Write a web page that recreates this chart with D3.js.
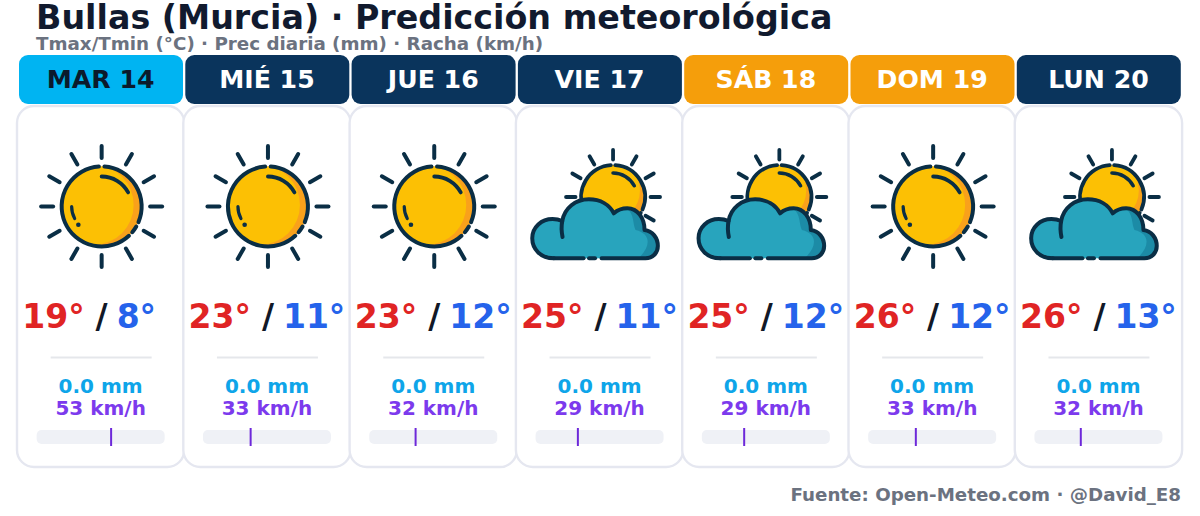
<!DOCTYPE html>
<html>
<head>
<meta charset="utf-8">
<script src="https://cdn.jsdelivr.net/npm/d3@7"></script>
<style>
  html, body { margin: 0; padding: 0; background: #fff; }
  text { font-family: "DejaVu Sans", sans-serif; font-weight: bold; }
</style>
</head>
<body>
<div id="chart"></div>
<script>
const days   = ["MAR 14", "MIÉ 15", "JUE 16", "VIE 17", "SÁB 18", "DOM 19", "LUN 20"];
const kinds  = ["today", "week", "week", "week", "weekend", "weekend", "week"];
const icons  = ["sun", "sun", "sun", "cloud", "cloud", "sun", "cloud"];
const tmax   = [19, 23, 23, 25, 25, 26, 26];
const tmin   = [8, 11, 12, 11, 12, 12, 13];
const precip = [0, 0, 0, 0, 0, 0, 0];
const gust   = [53, 33, 32, 29, 29, 33, 32];

const title    = "Bullas (Murcia) · Predicción meteorológica";
const subtitle = "Tmax/Tmin (°C) · Prec diaria (mm) · Racha (km/h)";
const source   = "Fuente: Open-Meteo.com · @David_E8";

const width = 1200, height = 516;
const ink = "#0a2e45";

const headFill = { today: "#00b4f2", week: "#0a345c", weekend: "#f59e0b" };
const headText = { today: "#0b1a2c", week: "#ffffff", weekend: "#ffffff" };

const svg = d3.select("#chart").append("svg")
  .attr("width", width).attr("height", height)
  .style("display", "block");

const x = d3.scaleBand().domain(days).range([17.5, 17.5 + 7 * 166.3]);
const gustX = d3.scaleLinear().domain([0, 90]).range([-60.5, 60]);

svg.append("text").attr("x", 36).attr("y", 28.5)
  .attr("font-size", 33.3).attr("fill", "#111a2e").text(title);
svg.append("text").attr("x", 36).attr("y", 49.5)
  .attr("font-size", 18.3).attr("fill", "#6b7280").text(subtitle);
svg.append("text").attr("x", 1181).attr("y", 501).attr("text-anchor", "end")
  .attr("font-size", 18.25).attr("fill", "#6b7280").text(source);

// arc stroke between two angles (degrees, clockwise from 12 o'clock)
function arcPath(cx, cy, r, a0, a1) {
  const p = d3.path();
  p.arc(cx, cy, r, (a0 - 90) * Math.PI / 180, (a1 - 90) * Math.PI / 180);
  return p.toString();
}

function strokeIt(sel, sw) {
  return sel.attr("fill", "none").attr("stroke", ink)
    .attr("stroke-width", sw).attr("stroke-linecap", "round").attr("stroke-linejoin", "round");
}

function drawSun(g, cx, cy, r, rayIn, rayOut, sw, litDx, litDy) {
  d3.range(0, 360, 30).forEach(a => {
    const t = a * Math.PI / 180;
    strokeIt(g.append("line")
      .attr("x1", cx + rayIn * Math.sin(t)).attr("y1", cy - rayIn * Math.cos(t))
      .attr("x2", cx + rayOut * Math.sin(t)).attr("y2", cy - rayOut * Math.cos(t)), sw);
  });
  g.append("circle").attr("cx", cx).attr("cy", cy).attr("r", r).attr("fill", "#f9a11b");
  const clip = "lit" + Math.round(r) + "_" + g.attr("data-i");
  g.append("clipPath").attr("id", clip).append("circle")
    .attr("cx", cx).attr("cy", cy).attr("r", r);
  g.append("circle").attr("clip-path", `url(#${clip})`)
    .attr("cx", cx + r * litDx).attr("cy", cy + r * litDy).attr("r", r).attr("fill", "#fcc004");
  [[4, 113], [120, 130], [137, 356]].forEach(([a0, a1]) => {
    strokeIt(g.append("path").attr("d", arcPath(cx, cy, r, a0, a1)), sw);
  });
  strokeIt(g.append("path").attr("d", arcPath(cx, cy, r * 0.75, 0, 62)), sw * 0.95);
}

function drawSunIcon(g) {
  drawSun(g, 0, 6.5, 40, 48.5, 60.5, 4, -0.2, -0.04);
  // lower-left glint on the big sun
  strokeIt(g.append("path").attr("d", "M-30,6.5 C-30,11 -29,15 -27,18.5"), 3.2);
  g.append("circle").attr("cx", -23.3).attr("cy", 24.8).attr("r", 2.3).attr("fill", ink);
}

const cloudD = "M-46.7,58.3 C-60,58.3 -68.3,49 -68.3,38.3 C-68.3,27 -59,19 -48,19 C-44,19 -41,19.8 -38.3,21 " +
  "C-36,8 -25,-0.7 -11.7,-0.7 C0,-0.7 9,5 13.3,13.3 C17,10 21,8.3 26.7,8.3 C37,8.3 44,18 44,30 " +
  "C52,31 57.3,38 57.3,46 C57.3,53 52,58.3 45,58.3";

function drawCloudIcon(g) {
  drawSun(g, 12.5, -3, 32, 37.5, 47, 3.8, -0.16, -0.2);
  const clip = "cloud_" + g.attr("data-i");
  g.append("clipPath").attr("id", clip).append("path").attr("d", cloudD + " Z");
  g.append("path").attr("d", cloudD + " Z").attr("fill", "#28a4bd");
  // shaded right side of the cloud
  g.append("path").attr("clip-path", `url(#${clip})`)
    .attr("d", "M26,8 C34,14 32,24 35,30 C52,34 50,48 36,60 L62,62 L62,8 Z")
    .attr("fill", "#1c8ba6");
  // outline, with gaps along the bottom
  strokeIt(g.append("path").attr("d", "M-17,58.3 L-46.7,58.3"), 4);
  strokeIt(g.append("path").attr("d", cloudD + " L1,58.3"), 4);
  strokeIt(g.append("path").attr("d", "M-11.5,58.3 L-5.5,58.3"), 4);
  strokeIt(g.append("path").attr("d", "M-38.3,21 C-39.5,27 -39,32 -38,37"), 4);
}

const step = x.step();

days.forEach((d, i) => {
  const left = x(d) - 0.5;
  const cx = x(d) + step / 2;
  const g = svg.append("g").attr("data-i", i);

  g.append("rect").attr("x", left).attr("y", 106)
    .attr("width", step + 1).attr("height", 361).attr("rx", 17)
    .attr("fill", "#fff").attr("stroke", "#e5e7f0").attr("stroke-width", 2.4);

  g.append("rect").attr("x", left + 2).attr("y", 55)
    .attr("width", 164).attr("height", 49).attr("rx", 9)
    .attr("fill", headFill[kinds[i]]);
  g.append("text").attr("x", cx).attr("y", 88).attr("text-anchor", "middle")
    .attr("font-size", 25.2).attr("fill", headText[kinds[i]]).text(d);

  const ic = g.append("g").attr("data-i", i).attr("transform", `translate(${cx + 1},200)`);
  if (icons[i] === "sun") drawSunIcon(ic); else drawCloudIcon(ic);

  g.append("text").attr("x", cx - 16).attr("y", 328).attr("text-anchor", "end")
    .attr("font-size", 33).attr("fill", "#e02424").text(tmax[i] + "°");
  g.append("text").attr("x", cx + 1).attr("y", 328).attr("text-anchor", "middle")
    .attr("font-size", 33).attr("fill", "#111827").text("/");
  g.append("text").attr("x", cx + 16).attr("y", 328).attr("text-anchor", "start")
    .attr("font-size", 33).attr("fill", "#2563eb").text(tmin[i] + "°");

  g.append("line").attr("x1", cx - 50).attr("x2", cx + 51).attr("y1", 357.5).attr("y2", 357.5)
    .attr("stroke", "#e5e7eb").attr("stroke-width", 2);

  g.append("text").attr("x", cx).attr("y", 393).attr("text-anchor", "middle")
    .attr("font-size", 20).attr("fill", "#0ea5e9").text(precip[i].toFixed(1) + " mm");
  g.append("text").attr("x", cx).attr("y", 415).attr("text-anchor", "middle")
    .attr("font-size", 20).attr("fill", "#7c3aed").text(gust[i] + " km/h");

  g.append("rect").attr("x", cx - 64).attr("y", 430).attr("width", 128).attr("height", 14).attr("rx", 5)
    .attr("fill", "#eff1f6");
  g.append("line").attr("x1", cx + gustX(gust[i])).attr("x2", cx + gustX(gust[i]))
    .attr("y1", 428).attr("y2", 446).attr("stroke", "#6d28d9").attr("stroke-width", 2);
});
</script>
</body>
</html>
